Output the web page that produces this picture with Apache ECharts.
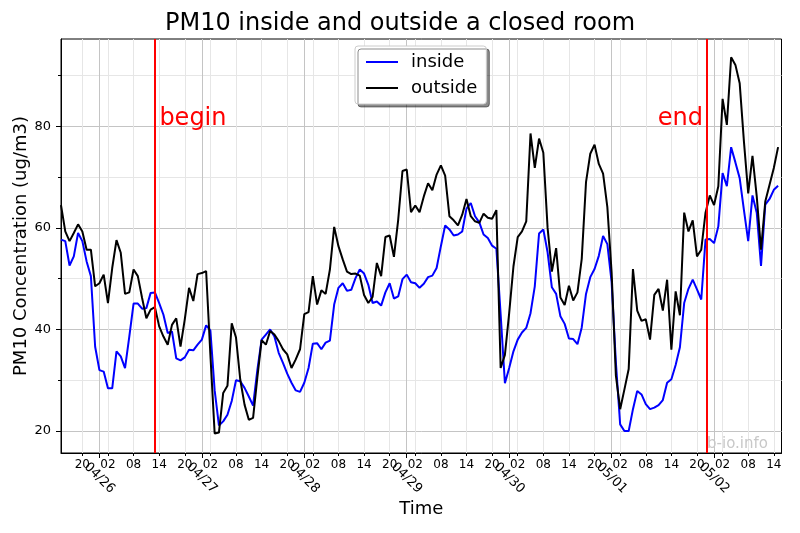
<!DOCTYPE html>
<html>
<head>
<meta charset="utf-8">
<script src="https://cdn.jsdelivr.net/npm/echarts@6/dist/echarts.min.js"></script>
<style>
html,body{margin:0;padding:0;background:#fff;}
#chart{width:800px;height:533px;}
</style>
</head>
<body>
<div id="chart"></div>
<script>
// Hourly readings, first reading 04/25 15:00 (hours counted from 04/25 00:00)
const firstHour = 15;
const dayLabels = ['04/25','04/26','04/27','04/28','04/29','04/30','05/01','05/02'];
const hourTickHours = [2, 8, 14, 20];
const yMajorTicks = [20, 40, 60, 80];
const yMinorTicks = [30, 50, 70, 90];
const beginHour = 36.85;   // 04/26 ~12:50
const endHour = 166.2;     // 05/01 ~22:10
const seriesNames = ['inside', 'outside'];

const inside = [
  57.7, 57.4, 52.6, 54.4, 59.0, 57.4, 53.4, 50.5, 36.6, 32.0,
  31.7, 28.4, 28.4, 35.7, 34.7, 32.4, 38.6, 45.1, 45.1, 44.1,
  44.2, 47.2, 47.3, 45.2, 42.9, 39.3, 39.6, 34.3, 33.9, 34.5,
  36.0, 35.9, 37.0, 38.0, 40.8, 39.8, 28.0, 21.1, 21.9, 23.2,
  25.9, 30.0, 29.8, 28.5, 26.8, 25.0, 32.0, 38.0, 39.0, 40.0,
  38.6, 35.4, 33.4, 31.3, 29.5, 28.0, 27.7, 29.5, 32.4, 37.2,
  37.3, 36.1, 37.4, 37.8, 44.9, 48.2, 49.1, 47.6, 47.8, 50.1,
  51.8, 51.0, 48.8, 45.2, 45.5, 44.7, 47.3, 49.1, 46.1, 46.5,
  49.9, 50.8, 49.3, 49.1, 48.2, 49.0, 50.3, 50.6, 52.1, 56.4,
  60.5, 59.7, 58.5, 58.7, 59.3, 63.8, 64.9, 62.3, 61.1, 58.7,
  58.0, 56.5, 55.9, 43.0, 29.4, 32.4, 35.7, 38.0, 39.4, 40.3,
  43.2, 48.5, 58.9, 59.7, 55.2, 48.3, 47.0, 42.6, 41.1, 38.2,
  38.1, 37.1, 40.4, 47.0, 50.3, 51.9, 54.5, 58.4, 56.8, 49.3,
  33.5, 21.3, 20.0, 20.0, 24.3, 27.9, 27.2, 25.3, 24.3, 24.6,
  25.1, 26.1, 29.5, 30.2, 33.0, 36.5, 45.2, 48.0, 49.8, 47.9,
  45.9, 57.7, 57.8, 57.0, 60.3, 70.8, 68.2, 75.9, 72.9, 69.8,
  63.5, 57.4, 66.4, 63.0, 52.5, 64.6, 65.7, 67.5, 68.3
];

const outside = [
  64.5, 59.3, 57.4, 59.0, 60.7, 59.3, 55.7, 55.7, 48.5, 49.1,
  50.8, 45.2, 52.1, 57.6, 55.1, 47.0, 47.3, 51.8, 50.5, 46.2,
  42.2, 43.9, 44.4, 40.6, 38.6, 37.0, 40.9, 42.2, 36.6, 42.0,
  48.2, 45.6, 50.9, 51.1, 51.5, 35.0, 19.5, 19.7, 27.5, 28.9,
  41.2, 38.4, 30.1, 25.2, 22.2, 22.6, 30.5, 37.9, 37.0, 39.7,
  39.0, 37.7, 36.1, 35.1, 32.4, 34.1, 36.1, 43.0, 43.4, 50.5,
  44.9, 47.7, 47.0, 51.8, 60.2, 56.4, 53.8, 51.4, 50.9, 51.0,
  50.6, 46.8, 45.2, 46.4, 53.1, 50.5, 58.2, 58.5, 54.3, 61.6,
  71.2, 71.5, 63.1, 64.4, 63.1, 66.2, 68.8, 67.4, 70.5, 72.3,
  70.3, 62.3, 61.5, 60.5, 62.6, 65.7, 62.3, 61.3, 61.0, 62.8,
  62.0, 61.8, 63.5, 32.4, 35.0, 43.2, 52.4, 58.2, 59.3, 61.3,
  78.6, 71.8, 77.6, 74.8, 60.0, 51.4, 56.0, 46.3, 44.8, 48.6,
  45.7, 47.3, 53.9, 69.0, 74.6, 76.4, 72.6, 70.7, 64.1, 51.2,
  30.9, 24.3, 28.2, 32.2, 51.9, 43.7, 41.7, 42.0, 38.0, 46.8,
  48.0, 43.7, 49.8, 36.0, 47.5, 42.8, 63.0, 59.3, 61.5, 54.4,
  55.7, 63.0, 66.4, 64.5, 68.2, 85.4, 80.3, 93.6, 92.1, 88.5,
  77.0, 66.8, 74.2, 66.2, 55.7, 65.2, 68.5, 71.8, 75.9
];

const xMin = 15.0, xMax = 183.8;
const yMin = 15.67, yMax = 97.2;

const toPairs = arr => arr.map((v, i) => [firstHour + i, v]);

const hourTicks = [];
for (let d = 0; d < dayLabels.length; d++) {
  hourTickHours.forEach(h => {
    const v = d * 24 + h;
    if (v >= xMin && v <= xMax) hourTicks.push(v);
  });
}
hourTicks.sort((a, b) => a - b);
const dayTicks = [];
for (let d = 1; d < dayLabels.length; d++) dayTicks.push(d * 24);

const pad2 = n => (n < 10 ? '0' : '') + n;
const FONT = 'DejaVu Sans';

const chart = echarts.init(document.getElementById('chart'), null, {renderer: 'canvas'});
chart.setOption({
  animation: false,
  backgroundColor: '#fff',
  textStyle: {fontFamily: FONT},
  title: {
    text: 'PM10 inside and outside a closed room',
    left: 'center', top: 7,
    textStyle: {fontFamily: FONT, fontSize: 24, fontWeight: 'normal', color: '#000'}
  },
  legend: {
    orient: 'vertical',
    left: 355, top: 46,
    data: seriesNames,
    icon: 'rect',
    itemWidth: 32, itemHeight: 2,
    itemGap: 8,
    padding: [7, 9, 7, 11],
    backgroundColor: '#fff',
    borderColor: '#cccccc', borderWidth: 1, borderRadius: 3,
    shadowColor: 'rgba(0,0,0,0.45)', shadowBlur: 0, shadowOffsetX: 3, shadowOffsetY: 3,
    textStyle: {fontFamily: FONT, fontSize: 18, color: '#000', padding: [0, 0, 0, 8]}
  },
  grid: {
    left: 61, right: 18.5, top: 39, bottom: 80,
    containLabel: false, outerBoundsMode: 'none',
    show: true, borderColor: '#000', borderWidth: 1, backgroundColor: 'transparent'
  },
  graphic: [{
    type: 'text', right: 32, bottom: 81, z: 100,
    style: {text: 'b-io.info', fill: '#c8c8c8', font: '15px "DejaVu Sans"'}
  }],
  xAxis: [{
    type: 'value', min: xMin, max: xMax, position: 'bottom',
    axisLine: {show: true, lineStyle: {color: '#000', width: 1}},
    axisTick: {show: true, customValues: hourTicks, length: 3, lineStyle: {color: '#000'}},
    axisLabel: {show: true, customValues: hourTicks, margin: 6, fontSize: 12, color: '#000',
      fontFamily: FONT, formatter: v => pad2(Math.round(v) % 24)},
    splitLine: {show: true, lineStyle: {color: '#e6e6e6', width: 1}}
  }, {
    type: 'value', min: xMin, max: xMax, position: 'bottom',
    name: 'Time', nameLocation: 'middle', nameGap: 47, nameMoveOverlap: false,
    nameTextStyle: {fontFamily: FONT, fontSize: 18, color: '#000'},
    axisLine: {show: false},
    axisTick: {show: true, customValues: dayTicks, length: 5, lineStyle: {color: '#000'}},
    axisLabel: {show: true, customValues: dayTicks, rotate: -45, align: 'center', verticalAlign: 'middle',
      margin: 25, fontSize: 13, color: '#000', fontFamily: FONT,
      formatter: v => dayLabels[Math.round(v / 24)]},
    splitLine: {show: true, lineStyle: {color: '#c4c4c4', width: 1}}
  }],
  yAxis: [{
    type: 'value', min: yMin, max: yMax, position: 'left',
    name: 'PM10 Concentration (ug/m3)', nameLocation: 'middle', nameGap: 30.5, nameMoveOverlap: false,
    nameTextStyle: {fontFamily: FONT, fontSize: 18, color: '#000'},
    axisLine: {show: true, lineStyle: {color: '#000', width: 1}},
    axisTick: {show: true, customValues: yMajorTicks, length: 5, lineStyle: {color: '#000'}},
    axisLabel: {show: true, customValues: yMajorTicks, margin: 10, fontSize: 13, color: '#000', fontFamily: FONT},
    splitLine: {show: true, lineStyle: {color: '#c4c4c4', width: 1}}
  }, {
    type: 'value', min: yMin, max: yMax, position: 'left',
    axisLine: {show: false},
    axisTick: {show: true, customValues: yMinorTicks, length: 3, lineStyle: {color: '#000'}},
    axisLabel: {show: false},
    splitLine: {show: true, lineStyle: {color: '#e6e6e6', width: 1}}
  }],
  series: [{
    name: seriesNames[0], type: 'line', xAxisIndex: 0, yAxisIndex: 0,
    data: toPairs(inside), symbol: 'none', smooth: false,
    lineStyle: {color: '#0000ff', width: 2}, itemStyle: {color: '#0000ff'},
    markLine: {
      silent: true, symbol: 'none', label: {show: false},
      lineStyle: {color: '#ff0000', width: 2, type: 'solid'},
      data: [{xAxis: beginHour}, {xAxis: endHour}]
    }
  }, {
    name: seriesNames[1], type: 'line', xAxisIndex: 0, yAxisIndex: 0,
    data: toPairs(outside), symbol: 'none', smooth: false,
    lineStyle: {color: '#000000', width: 2}, itemStyle: {color: '#000000'},
    markPoint: {
      silent: true, symbol: 'circle', symbolSize: 0,
      data: [
        {coord: [beginHour + 1.2, 81.4], label: {show: true, formatter: 'begin', position: 'right', distance: 0,
          color: '#ff0000', fontSize: 24, fontFamily: FONT}},
        {coord: [endHour - 0.8, 81.4], label: {show: true, formatter: 'end', position: 'left', distance: 0,
          color: '#ff0000', fontSize: 24, fontFamily: FONT}}
      ]
    }
  }]
});
</script>
</body>
</html>
